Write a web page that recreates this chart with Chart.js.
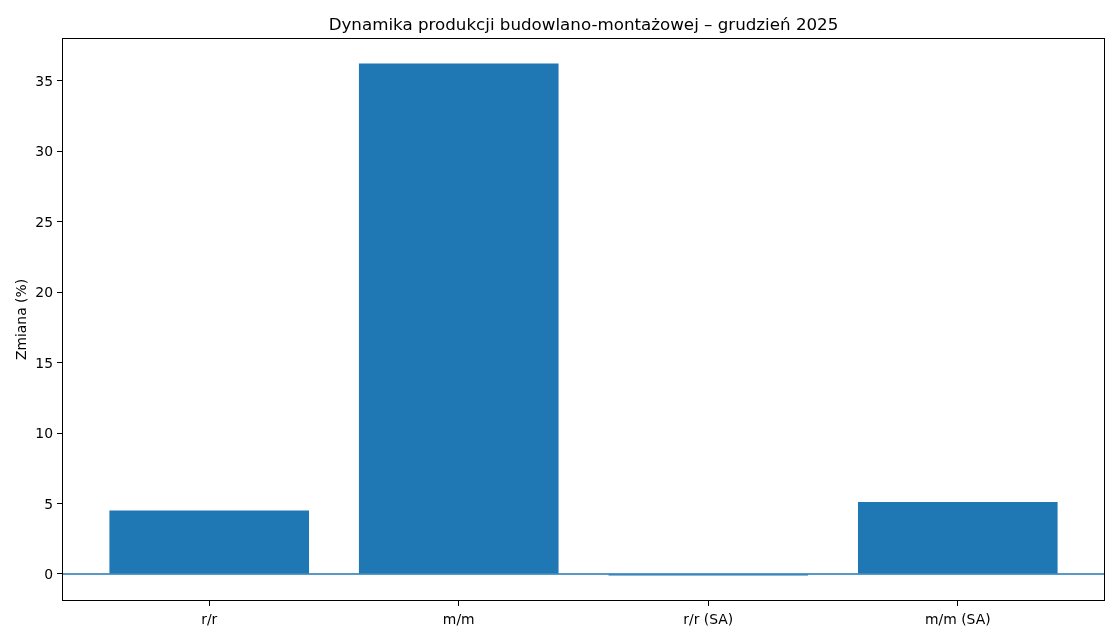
<!DOCTYPE html>
<html>
<head>
<meta charset="utf-8">
<script src="https://cdn.jsdelivr.net/npm/chart.js@4"></script>
<style>
html,body{margin:0;padding:0;background:#fff;}
#wrap{width:1120px;height:640px;}
</style>
</head>
<body>
<div id="wrap"><canvas id="c" width="1120" height="640"></canvas></div>
<script>
const categories = ["r/r", "m/m", "r/r (SA)", "m/m (SA)"];
const values = [4.5, 36.2, -0.1, 5.1];
const yTicks = [0, 5, 10, 15, 20, 25, 30, 35];
const titleText = "Dynamika produkcji budowlano-montażowej – grudzień 2025";
const yLabel = "Zmiana (%)";

const FONT = "'DejaVu Sans', sans-serif";
const BLUE = "#1f77b4";

// matplotlib-like auto limits (5% margins)
const dMin = Math.min(0, ...values), dMax = Math.max(0, ...values);
const yPad = (dMax - dMin) * 0.05;
const xLo = -0.4, xHi = categories.length - 1 + 0.4;
const xPad = (xHi - xLo) * 0.05;

const framePlugin = {
  id: 'frame',
  afterDatasetsDraw(chart) {
    const {ctx, chartArea: a, scales} = chart;
    const y0 = scales.y.getPixelForValue(0);
    ctx.save();
    ctx.strokeStyle = BLUE;
    ctx.lineWidth = 1.3;
    ctx.beginPath();
    ctx.moveTo(a.left, y0);
    ctx.lineTo(a.right, y0);
    ctx.stroke();
    ctx.strokeStyle = '#000';
    ctx.lineWidth = 1;
    ctx.strokeRect(Math.round(a.left) + 0.5, Math.round(a.top) + 0.5, Math.round(a.right - a.left) - 1, Math.round(a.bottom - a.top) - 1);
    ctx.restore();
  },
  afterDraw(chart) {
    const {ctx, chartArea: a} = chart;
    ctx.save();
    ctx.fillStyle = '#000';
    ctx.font = "16.7px " + FONT;
    ctx.textAlign = 'center';
    ctx.textBaseline = 'middle';
    ctx.fillText(titleText, (a.left + a.right) / 2, 25.5);
    ctx.translate(22, (a.top + a.bottom) / 2);
    ctx.rotate(-Math.PI / 2);
    ctx.font = "13.9px " + FONT;
    ctx.fillText(yLabel, 0, 0);
    ctx.restore();
  }
};

new Chart(document.getElementById('c'), {
  type: 'bar',
  data: {
    datasets: [{
      data: values.map((v, i) => ({x: i, y: v})),
      backgroundColor: BLUE,
      borderWidth: 0,
      categoryPercentage: 0.8,
      barPercentage: 1.0
    }]
  },
  options: {
    responsive: false,
    animation: false,
    devicePixelRatio: 1,
    layout: {padding: {left: 0, top: 38, right: 15, bottom: 0}},
    plugins: {legend: {display: false}, tooltip: {enabled: false}, title: {display: false}},
    scales: {
      x: {
        type: 'linear',
        offset: false,
        min: xLo - xPad,
        max: xHi + xPad,
        afterBuildTicks(scale) { scale.ticks = categories.map((_, i) => ({value: i})); },
        afterFit(scale) { scale.height = 39; },
        ticks: {
          callback: (v) => categories[v],
          color: '#000',
          font: {family: FONT, size: 13.9},
          padding: 6,
          maxRotation: 0,
          autoSkip: false
        },
        grid: {offset: false, drawOnChartArea: false, drawTicks: true, tickLength: 5, color: '#000', tickWidth: 1},
        border: {display: false}
      },
      y: {
        min: dMin - yPad,
        max: dMax + yPad,
        afterBuildTicks(scale) { scale.ticks = yTicks.map(v => ({value: v})); },
        afterFit(scale) { scale.width = 62; },
        ticks: {
          color: '#000',
          font: {family: FONT, size: 13.9},
          padding: 4,
          labelOffset: 1.5
        },
        grid: {drawOnChartArea: false, drawTicks: true, tickLength: 5, color: '#000', tickWidth: 1},
        border: {display: false}
      }
    }
  },
  plugins: [framePlugin]
});
</script>
</body>
</html>
